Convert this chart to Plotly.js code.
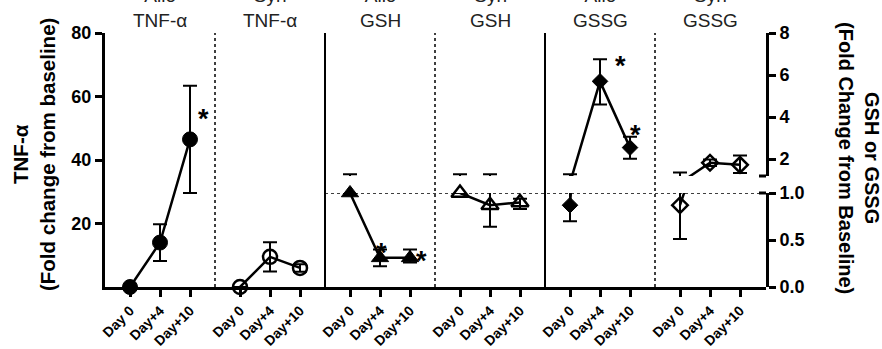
<!DOCTYPE html>
<html><head><meta charset="utf-8">
<script src="https://cdn.plot.ly/plotly-3.0.1.min.js"></script>
<style>html,body{margin:0;padding:0;background:#fff}</style>
</head><body><div id="chart" style="width:882px;height:349px"></div>
<script>
// ---------- data ----------
const days = ["Day 0", "Day+4", "Day+10"];
const panelTitles = ["Allo<br>TNF-α", "Syn<br>TNF-α", "Allo<br>GSH", "Syn<br>GSH", "Allo<br>GSSG", "Syn<br>GSSG"];

// TNF-α, fold change from baseline (left axis)
const alloTNF = [0, 14, 46.5];
const alloTNFErr = [0, 5.8, 16.9];
const synTNF = [0, 9.5, 6.0];
const synTNFErr = [0, 4.6, 1.2];

// GSH / GSSG, fold change from baseline (right, broken axis)
const alloGSH = [1.0, 0.31, 0.31];
const alloGSHPlus = [0.28, 0.09, 0.09];
const alloGSHMinus = [0, 0.09, 0.05];
const synGSH = [1.0, 0.87, 0.90];
const synGSHPlus = [0.28, 0.41, 0.04];
const synGSHMinus = [0, 0.23, 0.07];
const alloGSSG = [0.87, 5.7, 2.55];
const alloGSSGPlus = [0.41, 1.05, 0.52];
const alloGSSGMinus = [0.17, 1.1, 0.53];
const synGSSG = [0.87, 1.83, 1.73];
const synGSSGPlus = [0.5, 0.15, 0.44];
const synGSSGMinus = [0.36, 0.15, 0.39];

// significance marks: [panel index, day index]
const stars = [[0, 2], [2, 1], [2, 2], [4, 1], [4, 2]];

// ---------- layout helpers ----------
const PW = 11;                       // panel width in x units
const xpos = (p, d) => p * PW + 2.5 + 3 * d;
const BREAK_LO = 1.0, BREAK_HI = 1.2;
const FONT = "Liberation Sans, Arial, Helvetica, sans-serif";
const starShift = [[13, 20], [1, 5], [11, -3], [20, 15], [5, 13]];

const traces = [];
function xsOf(p) { return days.map((_, d) => xpos(p, d)); }

// TNF panels
[[0, alloTNF, alloTNFErr, 'circle'], [1, synTNF, synTNFErr, 'circle-open']].forEach(([p, v, e, sym]) => {
  traces.push({
    type: 'scatter', mode: 'lines+markers', x: xsOf(p), y: v, yaxis: 'y', cliponaxis: false,
    line: {color: '#000', width: 2.5},
    marker: {symbol: sym, size: sym.includes('open') ? 14 : 15, color: '#000', line: {color: '#000', width: sym.includes('open') ? 2.5 : 1}},
    error_y: {type: 'data', array: e, visible: true, color: '#000', thickness: 2, width: 7},
    hoverinfo: 'skip'
  });
});

// GSH / GSSG panels on the broken axis
const rightSeries = [
  [2, alloGSH, alloGSHPlus, alloGSHMinus, 'triangle-up'],
  [3, synGSH, synGSHPlus, synGSHMinus, 'triangle-up-open'],
  [4, alloGSSG, alloGSSGPlus, alloGSSGMinus, 'diamond'],
  [5, synGSSG, synGSSGPlus, synGSSGMinus, 'diamond-open']
];
rightSeries.forEach(([p, v, ep, em, sym]) => {
  ['y2', 'y3'].forEach(ax => {
    traces.push({
      type: 'scatter', mode: 'lines', x: xsOf(p), y: v, yaxis: ax, cliponaxis: true,
      line: {color: '#000', width: 2.5},
      error_y: {type: 'data', symmetric: false, array: ep, arrayminus: em, visible: true, color: '#000', thickness: 2, width: 7},
      hoverinfo: 'skip'
    });
  });
});
rightSeries.forEach(([p, v, ep, em, sym]) => {
  const open = sym.includes('open');
  const tri = sym.includes('triangle');
  const mk = {symbol: sym, size: tri ? 15 : 12, color: '#000', line: {color: '#000', width: open ? 2.5 : 1}};
  const xs = xsOf(p);
  const lo = v.map((y, i) => [xs[i], y]).filter(a => a[1] <= BREAK_LO);
  const hi = v.map((y, i) => [xs[i], y]).filter(a => a[1] > BREAK_HI);
  [[lo, 'y2'], [hi, 'y3']].forEach(([pts, ax]) => {
    if (!pts.length) return;
    traces.push({
      type: 'scatter', mode: 'markers', x: pts.map(a => a[0]), y: pts.map(a => a[1]), yaxis: ax,
      cliponaxis: false, marker: mk, hoverinfo: 'skip'
    });
  });
});

// tick positions / labels on x
const tickvals = [], ticktext = [];
panelTitles.forEach((_, p) => days.forEach((d, j) => { tickvals.push(xpos(p, j)); ticktext.push(d); }));

// dividers
const shapes = [];
[1, 2, 3, 4, 5].forEach(k => {
  shapes.push({type: 'line', xref: 'x', yref: 'paper', x0: k * PW, x1: k * PW, y0: 0, y1: 1,
    line: {color: '#000', width: k % 2 === 0 ? 2 : 1.5, dash: k % 2 === 0 ? 'solid' : 'dot'}});
});
// baseline (fold change = 1) across GSH/GSSG panels
shapes.push({type: 'line', xref: 'x', yref: 'y2', x0: 2 * PW, x1: 6 * PW + 0.1, y0: 1, y1: 1,
  line: {color: '#000', width: 1.5, dash: 'dot'}});
// axis-break end stubs
shapes.push({type: 'line', xref: 'paper', yref: 'y2 domain', x0: 1 - 7 / 661, x1: 1, y0: 1, y1: 1, line: {color: '#000', width: 3}});
shapes.push({type: 'line', xref: 'paper', yref: 'y3 domain', x0: 1 - 7 / 661, x1: 1, y0: 0, y1: 0, line: {color: '#000', width: 3}});

const annotations = [];
panelTitles.forEach((t, p) => {
  annotations.push({text: t, xref: 'x', yref: 'paper', x: p * PW + 5.5, y: 1, yanchor: 'bottom', xanchor: 'center',
    showarrow: false, font: {family: FONT, size: 19, color: '#222'}, yshift: 0});
});
stars.forEach(([p, d], k) => {
  const src = [alloTNF, synTNF, alloGSH, synGSH, alloGSSG, synGSSG][p];
  const v = src[d];
  const yref = p < 2 ? 'y' : (v <= BREAK_LO ? 'y2' : 'y3');
  annotations.push({text: '*', xref: 'x', yref: yref, x: xpos(p, d), y: v, showarrow: false,
    xshift: starShift[k][0], yshift: starShift[k][1],
    font: {family: FONT, size: 27, color: '#000', weight: 'bold'}});
});
// axis titles
annotations.push({text: 'TNF-α<br>(Fold change from baseline)', xref: 'paper', yref: 'paper',
  x: (34 - 105) / 661, y: (287 - 155) / 254, xanchor: 'center', yanchor: 'middle', textangle: -90, showarrow: false,
  font: {family: FONT, size: 20.5, color: '#000', weight: 'bold'}});
annotations.push({text: 'GSH or GSSG<br>(Fold Change from Baseline)', xref: 'paper', yref: 'paper',
  x: (859 - 105) / 661, y: (287 - 158) / 254, xanchor: 'center', yanchor: 'middle', textangle: 90, showarrow: false,
  font: {family: FONT, size: 20, color: '#000', weight: 'bold'}});

const axBase = {showgrid: false, zeroline: false, showline: true, linewidth: 3, linecolor: '#000',
  ticks: 'outside', ticklen: 7, tickwidth: 3, tickcolor: '#000', fixedrange: true};
const tickFont = {family: FONT, size: 18, color: '#000', weight: 'bold'};

const layout = {
  width: 882, height: 349,
  margin: {l: 105, r: 116, t: 33, b: 62, pad: 0},
  paper_bgcolor: '#fff', plot_bgcolor: 'rgba(0,0,0,0)',
  showlegend: false,
  font: {family: FONT, color: '#000'},
  xaxis: Object.assign({}, axBase, {range: [0, 6 * PW + 0.1], anchor: 'y', tickmode: 'array', tickvals, ticktext,
    tickangle: -45, ticklen: 7, tickfont: {family: FONT, size: 14, color: '#000', weight: 'bold'}}),
  yaxis: Object.assign({}, axBase, {domain: [0, 1], range: [0, 80], tickmode: 'array', tickvals: [20, 40, 60, 80], tickfont: tickFont}),
  yaxis2: Object.assign({}, axBase, {domain: [0, 94 / 254], range: [0, 1], side: 'right', anchor: 'x',
    tickmode: 'array', tickvals: [0, 0.5, 1], ticktext: ['0.0', '0.5', '1.0'], tickfont: tickFont}),
  yaxis3: Object.assign({}, axBase, {domain: [111 / 254, 1], range: [BREAK_HI, 8], side: 'right', anchor: 'x',
    tickmode: 'array', tickvals: [2, 4, 6, 8], tickfont: tickFont}),
  shapes, annotations
};

Plotly.newPlot('chart', traces, layout, {displayModeBar: false, staticPlot: true});
</script></body></html>
